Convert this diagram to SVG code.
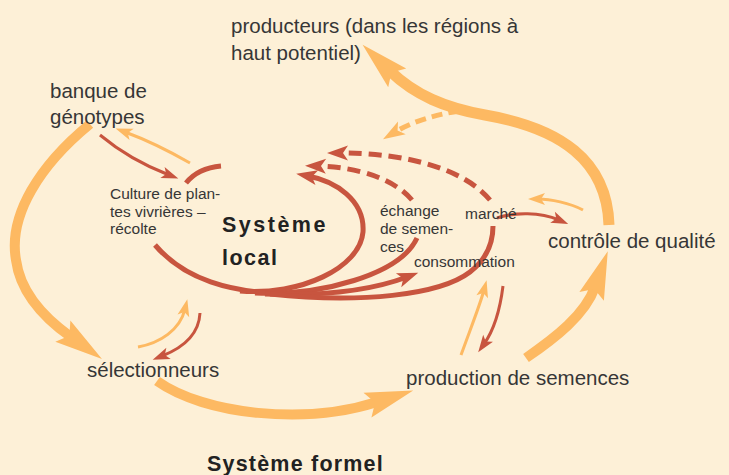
<svg xmlns="http://www.w3.org/2000/svg" width="729" height="475" viewBox="0 0 729 475">
  <defs>
    <style>
      .lbl { font-family: "Liberation Sans", Arial, Helvetica, sans-serif; fill: #363636; font-size: 20.5px; }
      .sm { font-size: 15.5px; }
      .title { font-family: "Liberation Sans", Arial, Helvetica, sans-serif; fill: #222; font-weight: bold; font-size: 21.5px; }
      .flow-o { fill: none; stroke: #FDB962; stroke-linecap: butt; }
      .flow-r { fill: none; stroke: #C8553F; stroke-linecap: butt; }
      .big { stroke-width: 10; }
      .mid { stroke-width: 5; }
      .thin { stroke-width: 3; }
      .dash-o { stroke-dasharray: 11 6; }
      .dash-r { stroke-dasharray: 13 7; }
    </style>
    <!-- large barbed head for the main formal-system flows -->
    <marker id="headBigO" viewBox="-50 -16 52 32" refX="-38" refY="0" markerWidth="52" markerHeight="32" markerUnits="userSpaceOnUse" orient="auto">
      <path d="M0,0 L-48,-13 L-40,0 L-48,13 Z" fill="#FDB962"/>
    </marker>
    <marker id="headMidO" viewBox="-24 -9 26 18" refX="-14" refY="0" markerWidth="26" markerHeight="18" markerUnits="userSpaceOnUse" orient="auto">
      <path d="M0,0 L-22,-7.5 L-17,0 L-22,7.5 Z" fill="#FDB962"/>
    </marker>
    <marker id="headMidR" viewBox="-24 -9 26 18" refX="-12" refY="0" markerWidth="26" markerHeight="18" markerUnits="userSpaceOnUse" orient="auto">
      <path d="M0,0 L-21,-7.5 L-16,0 L-21,7.5 Z" fill="#C8553F"/>
    </marker>
    <marker id="headThinO" viewBox="-20 -8 22 16" refX="-10" refY="0" markerWidth="22" markerHeight="16" markerUnits="userSpaceOnUse" orient="auto">
      <path d="M0,0 L-17,-6 L-13,0 L-17,6 Z" fill="#FDB962"/>
    </marker>
    <marker id="headThinR" viewBox="-20 -8 22 16" refX="-10" refY="0" markerWidth="22" markerHeight="16" markerUnits="userSpaceOnUse" orient="auto">
      <path d="M0,0 L-17,-6 L-13,0 L-17,6 Z" fill="#C8553F"/>
    </marker>
  </defs>

  <rect width="729" height="475" fill="#FDF0D7"/>

  <g id="connectors">
    <!-- formal system: big orange cycle -->
    <path class="flow-o big" d="M90,124 C40,165 8,215 16,260 C20,290 40,315 71,337" marker-end="url(#headBigO)"/>
    <path class="flow-o big" d="M157,381 C205,415 305,425 377,402" marker-end="url(#headBigO)"/>
    <path class="flow-o big" d="M526,358 C555,338 585,315 595,287" marker-end="url(#headBigO)"/>
    <path class="flow-o" stroke-width="11" d="M609,225 C607,160 560,128 485,115 C445,108 415,95 390,71" marker-end="url(#headBigO)"/>
    <path class="flow-o mid dash-o" d="M459,111 C440,114 415,120 395,132" marker-end="url(#headMidO)"/>

    <!-- local system: red loop and its branches -->
    <path class="flow-r mid" d="M186,183 Q198,168 221,166"/>
    <path class="flow-r mid" d="M155,245 C185,280 230,292 285,294"/>
    <path class="flow-r mid" d="M240,291 C300,296 360,268 363,232 C365,200 335,181 308,176" marker-end="url(#headMidR)"/>
    <path class="flow-r mid" d="M255,293 C320,296 400,275 417,238"/>
    <path class="flow-r mid" d="M265,294 C320,296 370,291 407,277" marker-end="url(#headMidR)"/>
    <path class="flow-r mid" d="M270,294 C360,304 440,295 470,272 C488,258 493,240 493,226"/>
    <path class="flow-r mid dash-r" d="M412,200 C395,180 360,167 317,166" marker-end="url(#headMidR)"/>
    <path class="flow-r mid dash-r" d="M490,200 C465,170 410,153 339,153" marker-end="url(#headMidR)"/>

    <!-- thin exchanges between the two systems -->
    <path class="flow-o thin" d="M190,163 Q155,143 125,132" marker-end="url(#headThinO)"/>
    <path class="flow-r thin" d="M100,135 Q130,160 169,175" marker-end="url(#headThinR)"/>
    <path class="flow-o thin" d="M138,347 C160,343 180,330 185,309" marker-end="url(#headThinO)"/>
    <path class="flow-r thin" d="M200,313 C199,333 185,347 162,356" marker-end="url(#headThinR)"/>
    <path class="flow-o thin" d="M461,355 C470,330 480,305 484,290" marker-end="url(#headThinO)"/>
    <path class="flow-r thin" d="M503,286 C500,310 494,330 484,344" marker-end="url(#headThinR)"/>
    <path class="flow-o thin" d="M583,210 C570,203 550,199 538,199" marker-end="url(#headThinO)"/>
    <path class="flow-r thin" d="M497,218 C515,212 540,212 559,220" marker-end="url(#headThinR)"/>
  </g>

  <g id="producteurs">
    <text class="lbl" x="231" y="33">producteurs (dans les régions à</text>
    <text class="lbl" x="231" y="60">haut potentiel)</text>
  </g>
  <g id="banque">
    <text class="lbl" x="50" y="98">banque de</text>
    <text class="lbl" x="50" y="124">génotypes</text>
  </g>
  <g id="culture">
    <text class="lbl sm" x="110" y="199">Culture de plan-</text>
    <text class="lbl sm" x="110" y="217">tes vivrières –</text>
    <text class="lbl sm" x="110" y="234">récolte</text>
  </g>
  <g id="systeme-local">
    <text class="title" x="222" y="232" letter-spacing="2.5">Système</text>
    <text class="title" x="222" y="265" letter-spacing="1.5">local</text>
  </g>
  <g id="echange">
    <text class="lbl sm" x="380" y="216">échange</text>
    <text class="lbl sm" x="380" y="234">de semen-</text>
    <text class="lbl sm" x="380" y="252">ces</text>
  </g>
  <g id="marche">
    <text class="lbl sm" x="465" y="219">marché</text>
  </g>
  <g id="consommation">
    <text class="lbl sm" x="414" y="267">consommation</text>
  </g>
  <g id="controle">
    <text class="lbl" x="548" y="248">contrôle de qualité</text>
  </g>
  <g id="selectionneurs">
    <text class="lbl" x="87" y="377">sélectionneurs</text>
  </g>
  <g id="production">
    <text class="lbl" x="406" y="385" font-size="20.8">production de semences</text>
  </g>
  <g id="systeme-formel">
    <text class="title" x="207" y="471" font-size="21" letter-spacing="1.2">Système formel</text>
  </g>
</svg>
